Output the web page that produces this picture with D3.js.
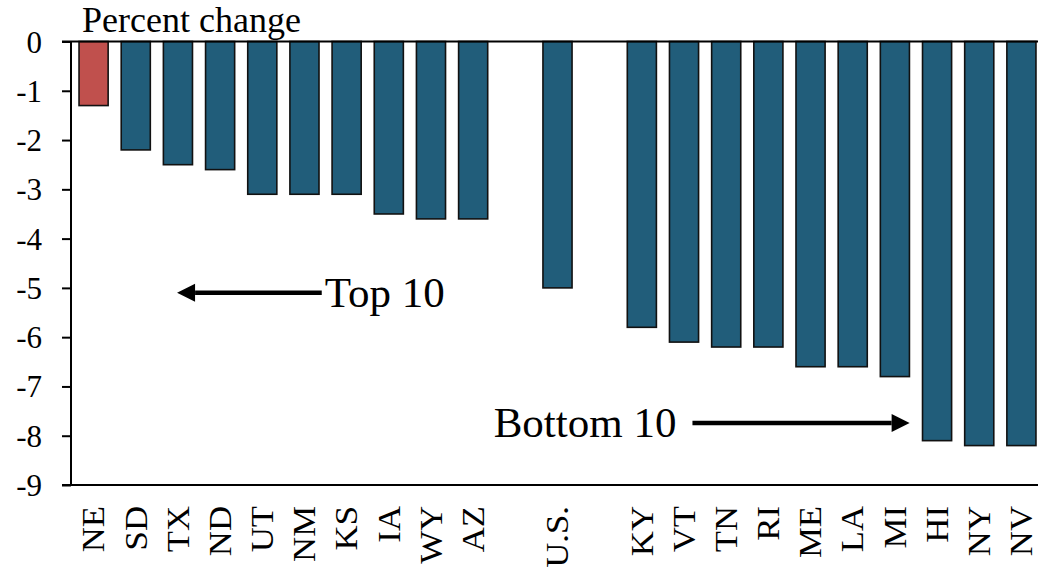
<!DOCTYPE html>
<html>
<head>
<meta charset="utf-8">
<script src="https://cdn.jsdelivr.net/npm/d3@7"></script>
<style>
  body { margin: 0; background: #fff; }
  text { font-family: 'Liberation Serif', 'Times New Roman', serif; fill: #000; }
</style>
</head>
<body>
<div id="chart-area"></div>
<script>
// slots along the x axis, empty strings are spacer slots
const categories = ['NE', 'SD', 'TX', 'ND', 'UT', 'NM', 'KS', 'IA', 'WY', 'AZ', '', 'U.S.', '', 'KY', 'VT', 'TN', 'RI', 'ME', 'LA', 'MI', 'HI', 'NY', 'NV'];
const values = [-1.3, -2.2, -2.5, -2.6, -3.1, -3.1, -3.1, -3.5, -3.6, -3.6, null, -5.0, null, -5.8, -6.1, -6.2, -6.2, -6.6, -6.6, -6.8, -8.1, -8.2, -8.2];
const highlight = ['NE'];
const yTicks = [0, -1, -2, -3, -4, -5, -6, -7, -8, -9];
const yTitle = 'Percent change';
// annotations: slot index for arrow tail/tip, value for height
const annotations = [
  { label: 'Top 10', from: 5.41, to: 1.98, value: -5.1, side: 'right' },
  { label: 'Bottom 10', from: 14.2, to: 19.35, value: -7.74, side: 'left' },
];

let width = 1038;
let height = 568;

let svg = d3
  .select('#chart-area')
  .append('svg')
  .attr('width', width)
  .attr('height', height);

let keys = categories.map((c, i) => 'k' + i); //unique keys so the spacer slots do not collide
let data = categories.map((c, i) => ({ key: keys[i], name: c, value: values[i] }));

let x = d3.scaleBand().domain(keys).range([72.5, 1042.5]).paddingInner(0.31).paddingOuter(0.155);
let y = d3.scaleLinear().domain([-9, 0]).range([485, 41.5]);
//slot index -> pixel center, used for the arrows
let xIdx = (i) => x(keys[0]) + x.bandwidth() / 2 + i * x.step();

//bars
svg
  .selectAll('rect.bar')
  .data(data.filter((d) => d.value !== null))
  .enter()
  .append('rect')
  .attr('class', 'bar')
  .attr('x', (d) => x(d.key))
  .attr('y', y(0))
  .attr('width', x.bandwidth())
  .attr('height', (d) => y(d.value) - y(0))
  .style('fill', (d) => (highlight.includes(d.name) ? '#C0504D' : '#215D7A'))
  .style('stroke', '#111')
  .style('stroke-width', 1.6);

//y axis
let yAxis = svg
  .append('g')
  .attr('transform', 'translate(71,0)')
  .attr('font-family', null)
  .call(d3.axisLeft(y).tickValues(yTicks).tickFormat((d) => String(d)).tickSize(9).tickPadding(20));
yAxis.select('.domain').remove();
yAxis.selectAll('line').attr('stroke', '#000').attr('stroke-width', 2);
yAxis.selectAll('text').style('font-size', '31px').attr('dy', '0.34em');

svg.append('line').attr('x1', 71).attr('x2', 71).attr('y1', y(0)).attr('y2', y(-9)).attr('stroke', '#000').attr('stroke-width', 2);
//zero line and bottom frame line
[0, -9].forEach((v) => {
  svg.append('line').attr('x1', 62).attr('x2', width).attr('y1', y(v)).attr('y2', y(v)).attr('stroke', '#000').attr('stroke-width', 2);
});

//title
svg.append('text').attr('x', 82).attr('y', 32).style('font-size', '36px').text(yTitle);

//category labels, rotated
svg
  .selectAll('text.cat')
  .data(data.filter((d) => d.name !== ''))
  .enter()
  .append('text')
  .attr('class', 'cat')
  .attr('transform', (d) => `translate(${x(d.key) + x.bandwidth() / 2 + 0.5}, 506) rotate(-90) scale(1.12, 1)`)
  .attr('text-anchor', 'end')
  .attr('dy', '0.33em')
  .style('font-size', '31px')
  .text((d) => d.name);

//annotation arrows
annotations.forEach((a) => {
  let x1 = xIdx(a.from);
  let x2 = xIdx(a.to);
  let yy = y(a.value);
  let dir = x2 > x1 ? 1 : -1;
  let headLen = 18;
  svg.append('line').attr('x1', x1).attr('x2', x2 - dir * headLen).attr('y1', yy).attr('y2', yy).attr('stroke', '#000').attr('stroke-width', 4.5);
  svg
    .append('path')
    .attr('d', `M${x2},${yy} L${x2 - dir * headLen},${yy - 9} L${x2 - dir * headLen},${yy + 9} Z`)
    .attr('fill', '#000');
  svg
    .append('text')
    .attr('x', a.side === 'right' ? x1 + 3 : x1 - 16)
    .attr('y', yy)
    .attr('dy', '0.33em')
    .attr('text-anchor', a.side === 'right' ? 'start' : 'end')
    .style('font-size', '43px')
    .text(a.label);
});
</script>
</body>
</html>
